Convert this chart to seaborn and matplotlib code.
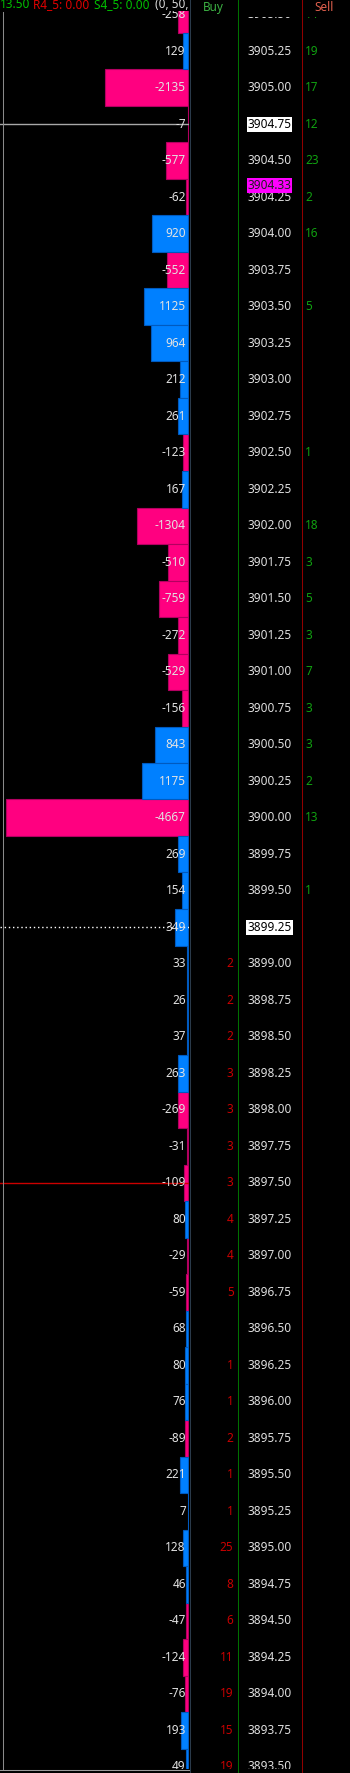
import numpy as np
import pandas as pd
import matplotlib
matplotlib.use("Agg")
import matplotlib.pyplot as plt
import seaborn as sns
from matplotlib.lines import Line2D
from matplotlib.transforms import blended_transform_factory

# ---- price ladder (top to bottom) ----
price_labels = [
    "3905.50", "3905.25", "3905.00", "3904.75", "3904.50", "3904.25", "3904.00",
    "3903.75", "3903.50", "3903.25", "3903.00", "3902.75", "3902.50", "3902.25",
    "3902.00", "3901.75", "3901.50", "3901.25", "3901.00", "3900.75", "3900.50",
    "3900.25", "3900.00", "3899.75", "3899.50", "3899.25", "3899.00", "3898.75",
    "3898.50", "3898.25", "3898.00", "3897.75", "3897.50", "3897.25", "3897.00",
    "3896.75", "3896.50", "3896.25", "3896.00", "3895.75", "3895.50", "3895.25",
    "3895.00", "3894.75", "3894.50", "3894.25", "3894.00", "3893.75", "3893.50",
]

# net delta per price level
deltas = [
    -258, 129, -2135, -7, -577, -62, 920,
    -552, 1125, 964, 212, 261, -123, 167,
    -1304, -510, -759, -272, -529, -156, 843,
    1175, -4667, 269, 154, 349, 33, 26,
    37, 263, -269, -31, -109, 80, -29,
    -59, 68, 80, 76, -89, 221, 7,
    128, 46, -47, -124, -76, 193, 49,
]

# resting orders at each level (None = empty)
buy_orders = [
    None, None, None, None, None, None, None,
    None, None, None, None, None, None, None,
    None, None, None, None, None, None, None,
    None, None, None, None, None, 2, 2,
    2, 3, 3, 3, 3, 4, 4,
    5, None, 1, 1, 2, 1, 1,
    25, 8, 6, 11, 19, 15, 19,
]
sell_orders = [
    14, 19, 17, 12, 23, 2, 16,
    None, 5, None, None, None, 1, None,
    18, 3, 5, 3, 7, 3, 3,
    2, 13, None, 1, None, None, None,
    None, None, None, None, None, None, None,
    None, None, None, None, None, None, None,
    None, None, None, None, None, None, None,
]

# marked levels
white_marked = ["3904.75", "3899.25"]
last_price = 3904.33
line_levels = ["3904.75", "3899.25", "3897.50"]
line_colors = ["#a8a8a8", "#ffffff", "#cc0000"]
line_styles = ["-", (0, (1, 2)), "-"]

# study header
header_texts = ["13.50", "R4_5: 0.00", "S4_5: 0.00", "(0, 50,"]
header_colors = ["#00c000", "#e00000", "#00c000", "#d8d8d8"]
header_x = [0.0, 33.0, 94.0, 155.0]

BLUE = "#0080ff"
PINK = "#ff0080"
FS = 8.5

plt.rcParams["font.family"] = ["Noto Sans", "DejaVu Sans"]

W, H = 350, 1773
fig = plt.figure(figsize=(W / 100, H / 100), dpi=100, facecolor="black")


def fx(px):
    return px / W


def fy(py):
    return 1 - py / H


ROW0, ROWH = 14.75, 36.5


def ylim_for(top_px, bot_px):
    return ((bot_px - ROW0) / ROWH, (top_px - ROW0) / ROWH)


def row_of(price):
    return (float(price_labels[0]) - float(price)) / 0.25


# ---- delta histogram ----
ax = fig.add_axes([0, fy(1769), fx(189), (1769 - 11) / H])
ax.set_facecolor("black")

d = np.array(deltas)
df = pd.DataFrame({
    "price": price_labels,
    "size": np.abs(d),
    "side": np.where(d >= 0, "buy", "sell"),
})
sns.barplot(
    data=df, x="size", y="price", hue="side", orient="h",
    palette={"buy": BLUE, "sell": PINK}, saturation=1, width=1.0,
    dodge=False, errorbar=None, legend=False, linewidth=0.8, ax=ax,
)
for p in ax.patches:
    fc = p.get_facecolor()
    p.set_edgecolor((fc[0] * 0.7, fc[1] * 0.7, fc[2] * 0.75, 1))
    p.set_zorder(1)

ax.set_xlim(4816, -18)
ax.set_ylim(*ylim_for(11, 1769))
ax.set_axis_off()

for lvl, c, ls in zip(line_levels, line_colors, line_styles):
    ax.axhline(row_of(lvl), color=c, lw=1.0, ls=ls, zorder=2)

trans = blended_transform_factory(ax.transAxes, ax.transData)
for i, v in enumerate(deltas):
    ax.text(185.8 / 189, i, f"{v}", ha="right", va="center", color="#e2e2e2",
            fontsize=FS, transform=trans, clip_on=True, zorder=3)

# ---- order table ----
ax2 = fig.add_axes([fx(189), fy(1769), fx(161), (1769 - 17) / H])
ax2.set_facecolor("black")
ax2.set_xlim(189, 350)
ax2.set_ylim(*ylim_for(17, 1769))
ax2.set_axis_off()

for i, lab in enumerate(price_labels):
    if lab in white_marked:
        ax2.text(269.5, i, lab, ha="center", va="center", color="black",
                 fontsize=FS, clip_on=True,
                 bbox=dict(boxstyle="square,pad=0.08", fc="white", ec="none"))
    else:
        ax2.text(269.5, i, lab, ha="center", va="center", color="#dedede",
                 fontsize=FS, clip_on=True)
    if buy_orders[i] is not None:
        ax2.text(233.5, i, f"{buy_orders[i]}", ha="right", va="center",
                 color="#c80000", fontsize=FS, clip_on=True)
    if sell_orders[i] is not None:
        ax2.text(305, i, f"{sell_orders[i]}", ha="left", va="center",
                 color="#10a010", fontsize=FS, clip_on=True)

ax2.text(269.5, row_of(last_price), f"{last_price:.2f}", ha="center",
         va="center", color="#202020", fontsize=FS, clip_on=True, zorder=5,
         bbox=dict(boxstyle="square,pad=0.08", fc="#ff00ff", ec="none"))

# ---- column separators and frame ----
def vline(x, y0, y1, color, lw=0.75):
    fig.add_artist(Line2D([fx(x), fx(x)], [fy(y0), fy(y1)], color=color, lw=lw))


def hline(y, x0, x1, color, lw=0.75):
    fig.add_artist(Line2D([fx(x0), fx(x1)], [fy(y), fy(y)], color=color, lw=lw))


vline(189.5, 0, H, "#2a3a4a")
vline(237.5, 0, H, "#007000")
vline(301.5, 0, H, "#900000")
vline(3.0, 12, 1769, "#8a8a8a")
hline(1769.5, 0, 189, "#9a9a9a")

# ---- headers ----
for t, c, x in zip(header_texts, header_colors, header_x):
    fig.text(fx(x), fy(8.5), t, ha="left", va="baseline", color=c, fontsize=FS)
fig.text(fx(213), fy(11), "Buy", ha="center", va="baseline", color="#3cb043",
         fontsize=FS)
fig.text(fx(324), fy(11), "Sell", ha="center", va="baseline", color="#e0604e",
         fontsize=FS)

fig.savefig("out.png", dpi=100, facecolor="black")
